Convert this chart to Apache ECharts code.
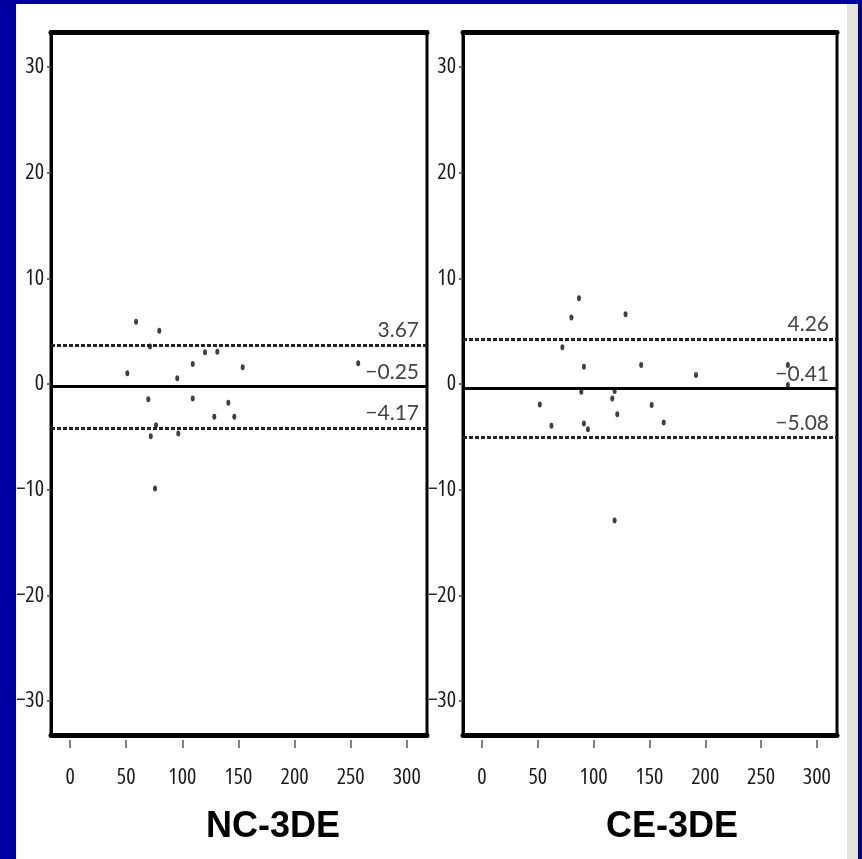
<!DOCTYPE html>
<html>
<head>
<meta charset="utf-8">
<script src="https://cdn.jsdelivr.net/npm/echarts@6/dist/echarts.min.js"></script>
<style>
  html, body { margin: 0; padding: 0; width: 862px; height: 859px; background: #0000a0; overflow: hidden; }
  #paper { position: absolute; left: 16px; top: 4px; width: 842px; height: 855px; background: #ffffff; }
  #edge { position: absolute; left: 847px; top: 4px; width: 11px; height: 855px; background: #e4e4dc; }
  #chart { position: absolute; left: 0; top: 0; width: 862px; height: 859px; }
</style>
</head>
<body>
<div id="paper"></div>
<div id="edge"></div>
<div id="chart"></div>
<script>
// Bland-Altman style panels: difference vs. mean, with mean bias and limits of agreement
const panelTitles = ['NC-3DE', 'CE-3DE'];

const xTicks = [0, 50, 100, 150, 200, 250, 300];
const yTicks = [-30, -20, -10, 0, 10, 20, 30];

// NC-3DE measurements
const ncMean = [58.8, 79.5, 71.2, 120.2, 131.2, 109.3, 153.8, 256.7, 51.0, 95.5, 69.7, 109.3, 141.0, 128.5, 146.3, 76.6, 71.9, 96.4, 75.7];
const ncDiff = [5.9, 5.05, 3.54, 3.0, 3.05, 1.9, 1.58, 1.96, 1.01, 0.54, -1.45, -1.36, -1.77, -3.1, -3.1, -3.89, -4.93, -4.67, -9.89];
const ncLimits = [3.67, -0.25, -4.17];

// CE-3DE measurements
const ceMean = [86.9, 80.1, 128.6, 72.0, 91.3, 142.6, 191.7, 274.0, 274.0, 89.0, 118.8, 116.7, 51.8, 152.0, 121.2, 62.2, 91.3, 94.9, 162.8, 118.8];
const ceDiff = [8.12, 6.29, 6.6, 3.48, 1.64, 1.8, 0.85, 1.8, -0.1, -0.73, -0.66, -1.36, -1.93, -1.99, -2.87, -3.95, -3.73, -4.27, -3.63, -12.9];
const ceLimits = [4.26, -0.41, -5.08];

const X_MIN = -17, X_MAX = 318;
const Y_MIN = -33.2, Y_MAX = 33.3;

const minus = s => String(s).replace('-', '\u2212');
// tick labels use a narrow face
const tickText = {
  color: '#1a1a1a', fontSize: 22, fontStyle: 'extra-condensed',
  fontFamily: '"Liberation Sans Narrow", "Open Sans", sans-serif'
};

const grids = [
  { left: 51, top: 32, width: 376, height: 703 },
  { left: 463, top: 32, width: 374, height: 703 }
];
const titleCenters = [268, 667];

const chart = echarts.init(document.getElementById('chart'), null, { renderer: 'canvas' });

const xAxes = [], yAxes = [], series = [], titles = [];
const panels = [
  { x: ncMean, y: ncDiff, limits: ncLimits },
  { x: ceMean, y: ceDiff, limits: ceLimits }
];

panels.forEach((p, i) => {
  // frame bottom edge (thick)
  xAxes.push({
    gridIndex: i, type: 'value', position: 'bottom', min: X_MIN, max: X_MAX,
    axisLine: { show: true, onZero: false, lineStyle: { color: '#000', width: 5 } },
    axisTick: { show: false }, axisLabel: { show: false }, splitLine: { show: false }
  });
  // tick marks and labels set slightly below the frame
  xAxes.push({
    gridIndex: i, type: 'value', position: 'bottom', offset: 5, min: X_MIN, max: X_MAX,
    axisLine: { show: false, onZero: false },
    axisTick: { show: true, length: 8, customValues: xTicks, lineStyle: { color: '#555', width: 1.5 } },
    axisLabel: Object.assign({ show: true, customValues: xTicks, margin: 27 }, tickText),
    splitLine: { show: false }
  });
  // frame top edge (thick)
  xAxes.push({
    gridIndex: i, type: 'value', position: 'top', min: X_MIN, max: X_MAX,
    axisLine: { show: true, onZero: false, lineStyle: { color: '#000', width: 5 } },
    axisTick: { show: false }, axisLabel: { show: false }, splitLine: { show: false }
  });
  yAxes.push({
    gridIndex: i, type: 'value', position: 'left', min: Y_MIN, max: Y_MAX,
    axisLine: { show: true, onZero: false, lineStyle: { color: '#000', width: 3 } },
    axisTick: { show: true, length: 4, customValues: yTicks, lineStyle: { color: '#444', width: 1.5 } },
    axisLabel: Object.assign({ show: true, customValues: yTicks, margin: 7, formatter: v => minus(v) }, tickText),
    splitLine: { show: false }
  });

  const lines = p.limits.map((v, k) => ({
    yAxis: v,
    lineStyle: k === 1
      ? { color: '#000', width: 3, type: 'solid' }
      : { color: '#222', width: 3, type: [4, 2] }
  }));

  series.push({
    type: 'scatter',
    xAxisIndex: i * 3,
    yAxisIndex: i,
    data: p.x.map((xv, k) => [xv, p.y[k]]),
    symbol: 'circle',
    symbolSize: [4, 6],
    itemStyle: { color: '#111' },
    silent: true,
    markLine: {
      silent: true,
      symbol: ['none', 'none'],
      animation: false,
      label: {
        show: true,
        position: 'insideEndTop',
        distance: [8, 4],
        color: '#444',
        fontSize: 21,
        fontFamily: 'Lato, "Open Sans", sans-serif',
        formatter: q => minus(Number(q.value).toFixed(2))
      },
      data: lines
    }
  });

  titles.push({
    text: panelTitles[i],
    left: titleCenters[i],
    textAlign: 'center',
    top: 804,
    textStyle: { fontFamily: '"Liberation Sans", Arial, sans-serif', fontWeight: 'bold', fontSize: 36, color: '#000' }
  });
});

chart.setOption({
  backgroundColor: 'transparent',
  animation: false,
  title: titles,
  grid: grids.map(g => Object.assign({ show: true, borderColor: '#000', borderWidth: 3, backgroundColor: '#fff' }, g)),
  xAxis: xAxes,
  yAxis: yAxes,
  series: series
});
</script>
</body>
</html>
